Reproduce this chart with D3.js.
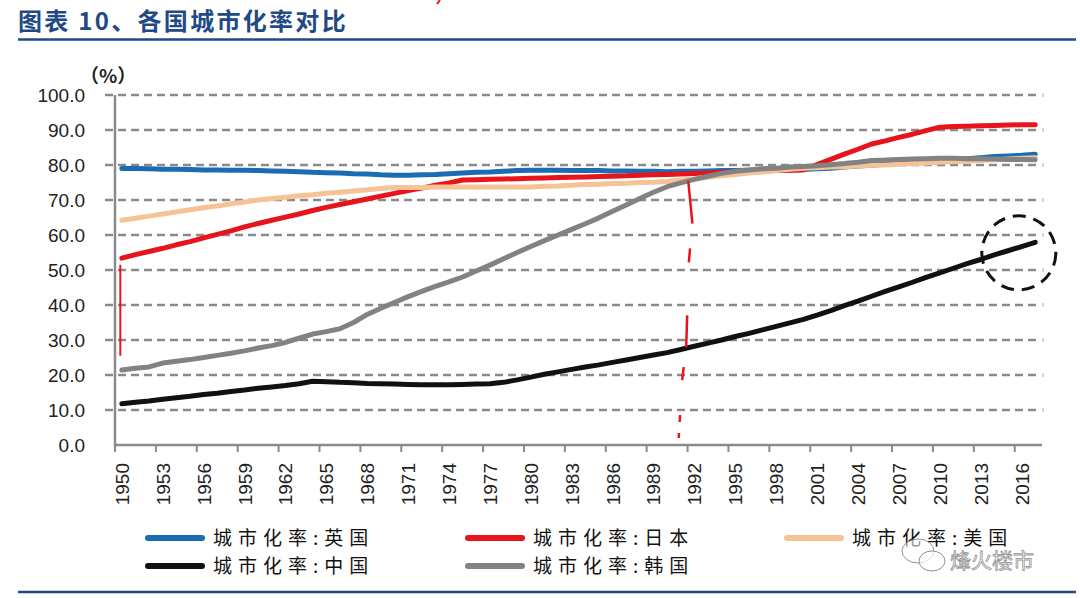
<!DOCTYPE html>
<html><head><meta charset="utf-8">
<script src="https://cdn.jsdelivr.net/npm/d3@7/dist/d3.min.js"></script>
<style>
html,body{margin:0;padding:0;background:#fff;}
svg{display:block;}
</style></head>
<body>
<svg id="chart" width="1080" height="598"></svg>
<script>
const years = d3.range(1950, 2018);
const uk = [79.0,79.0,78.9,78.8,78.8,78.7,78.6,78.6,78.5,78.5,78.4,78.3,78.2,78.1,77.9,77.8,77.7,77.5,77.4,77.2,77.1,77.1,77.2,77.3,77.5,77.7,77.9,78.0,78.2,78.4,78.5,78.5,78.5,78.4,78.4,78.4,78.3,78.3,78.2,78.2,78.1,78.2,78.2,78.3,78.4,78.4,78.5,78.5,78.6,78.6,78.7,78.9,79.1,79.4,79.7,79.9,80.2,80.5,80.8,81.0,81.3,81.6,81.8,82.1,82.4,82.6,82.8,83.1];
const japan = [53.4,54.4,55.3,56.2,57.2,58.1,59.2,60.2,61.2,62.3,63.3,64.2,65.1,66.0,67.0,67.9,68.7,69.5,70.3,71.1,71.9,72.7,73.4,74.2,74.9,75.7,75.8,75.9,76.0,76.1,76.2,76.3,76.4,76.5,76.6,76.7,76.8,76.9,77.1,77.2,77.3,77.4,77.6,77.7,77.9,78.0,78.1,78.3,78.4,78.5,78.6,80.1,81.6,83.1,84.5,86.0,86.9,87.9,88.8,89.8,90.8,91.0,91.1,91.2,91.3,91.4,91.5,91.5];
const usa = [64.2,64.8,65.4,66.0,66.6,67.2,67.8,68.3,68.9,69.4,70.0,70.4,70.8,71.2,71.5,71.9,72.2,72.6,72.9,73.3,73.6,73.6,73.6,73.7,73.7,73.7,73.7,73.7,73.7,73.7,73.7,73.9,74.0,74.2,74.4,74.5,74.7,74.8,75.0,75.1,75.3,75.7,76.1,76.5,76.9,77.3,77.7,78.0,78.4,78.8,79.1,79.2,79.4,79.5,79.7,79.9,80.0,80.2,80.4,80.6,80.8,81.0,81.1,81.3,81.5,81.7,81.9,82.1];
const china = [11.8,12.2,12.6,13.1,13.5,13.9,14.4,14.8,15.3,15.7,16.2,16.6,17.0,17.5,18.2,18.1,17.9,17.8,17.6,17.5,17.4,17.3,17.2,17.2,17.2,17.3,17.4,17.5,17.9,18.6,19.4,20.2,20.9,21.6,22.3,22.9,23.6,24.3,25.0,25.7,26.4,27.3,28.2,29.1,30.0,31.0,31.9,32.9,33.9,34.9,35.9,37.1,38.4,39.8,41.1,42.5,43.9,45.2,46.5,47.9,49.2,50.5,51.8,53.0,54.3,55.5,56.7,57.9];
const korea = [21.4,21.9,22.3,23.4,23.9,24.4,25.0,25.6,26.2,26.9,27.7,28.4,29.3,30.5,31.7,32.4,33.2,35.0,37.3,39.1,40.7,42.4,43.9,45.3,46.6,48.0,49.7,51.4,53.2,55.0,56.7,58.4,60.0,61.6,63.2,64.9,66.8,68.6,70.4,72.2,73.8,74.9,75.9,76.8,77.6,78.2,78.6,78.9,79.1,79.4,79.6,79.8,80.1,80.4,80.8,81.3,81.4,81.6,81.7,81.8,81.9,81.9,81.8,81.8,81.7,81.6,81.6,81.5];
const seriesNames = ["城市化率:英国","城市化率:日本","城市化率:美国","城市化率:中国","城市化率:韩国"];
const seriesColors = ["#1a6db5","#e8141b","#f5c396","#111111","#828282"];
const seriesData = [uk, japan, usa, china, korea];
const yTicks = [0,10,20,30,40,50,60,70,80,90,100];
const xTickYears = years.filter(y => (y - 1950) % 3 === 0);
const titleText = "图表 10、各国城市化率对比";

const svg = d3.select("#chart");
const x = d3.scaleBand().domain(years).range([115, 1042]).paddingInner(0).paddingOuter(0);
const bw = x.bandwidth();
const xc = yr => x(yr) + bw / 2;
const y = d3.scaleLinear().domain([0, 100]).range([445, 95]);

// title
svg.append("text").attr("x", 18).attr("y", 30)
  .attr("font-family", "'Noto Sans CJK SC', sans-serif").attr("font-weight", "bold")
  .attr("font-size", 24).attr("letter-spacing", 2.3).attr("fill", "#1f4a86").text(titleText);
svg.append("line").attr("x1", 18).attr("x2", 1076).attr("y1", 39.5).attr("y2", 39.5)
  .attr("stroke", "#1f4a86").attr("stroke-width", 2.5);
svg.append("line").attr("x1", 18).attr("x2", 1076).attr("y1", 592).attr("y2", 592)
  .attr("stroke", "#1f4a86").attr("stroke-width", 2.5);

// small red mark at top
svg.append("line").attr("x1", 437).attr("y1", 4).attr("x2", 440).attr("y2", 0)
  .attr("stroke", "#e8141b").attr("stroke-width", 2);

// gridlines
svg.append("g").selectAll("line").data(yTicks.filter(d => d > 0)).join("line")
  .attr("x1", 105).attr("x2", 1040).attr("y1", d => y(d)).attr("y2", d => y(d))
  .attr("stroke", "#8a8a8a").attr("stroke-width", 2.5).attr("stroke-dasharray", "8,5");
svg.append("g").selectAll("line").data(yTicks.filter(d => d > 0)).join("line")
  .attr("x1", 1043).attr("x2", 1043).attr("y1", d => y(d) - 2).attr("y2", d => y(d) + 2)
  .attr("stroke", "#aaa").attr("stroke-width", 1);

// y axis
const yAxis = d3.axisLeft(y).tickValues(yTicks).tickFormat(d3.format(".1f")).tickSize(0).tickPadding(30);
const gy = svg.append("g").attr("transform", "translate(115,0)").call(yAxis);
gy.select(".domain").remove();
gy.selectAll("text").attr("font-family", "'Liberation Sans', Arial, sans-serif").attr("font-size", 19).attr("fill", "#222");
svg.append("line").attr("x1", 115).attr("x2", 115).attr("y1", 95).attr("y2", 447)
  .attr("stroke", "#8a8a8a").attr("stroke-width", 2.5);
svg.append("text").attr("x", 80).attr("y", 83)
  .attr("font-family", "'Noto Sans CJK SC', sans-serif").attr("font-size", 19).attr("font-weight", "bold")
  .attr("fill", "#222").text("（%）");

// x axis
svg.append("line").attr("x1", 114).attr("x2", 1042).attr("y1", 445).attr("y2", 445)
  .attr("stroke", "#8a8a8a").attr("stroke-width", 2.5);
svg.append("g").selectAll("line").data(xTickYears).join("line")
  .attr("x1", d => x(d)).attr("x2", d => x(d)).attr("y1", 445).attr("y2", 452)
  .attr("stroke", "#8a8a8a").attr("stroke-width", 2);
svg.append("g").selectAll("text").data(xTickYears).join("text")
  .attr("transform", d => `translate(${xc(d) + 7},463) rotate(-90)`)
  .attr("text-anchor", "end")
  .attr("font-family", "'Liberation Sans', Arial, sans-serif").attr("font-size", 19).attr("fill", "#222")
  .text(d => d);

// lines
const line = d3.line().x((d, i) => xc(years[i])).y(d => y(d));
seriesData.forEach((s, k) => {
  svg.append("path").datum(s).attr("d", line).attr("fill", "none")
    .attr("stroke", seriesColors[k]).attr("stroke-width", 5)
    .attr("stroke-linejoin", "round").attr("stroke-linecap", "round");
});

// annotations
svg.append("line").attr("x1", xc(1950) - 1.5).attr("x2", xc(1950) - 1.5).attr("y1", y(51.5)).attr("y2", y(25.5))
  .attr("stroke", "#e8141b").attr("stroke-width", 2);
const annX = yr => xc(1950) + (yr - 1950) * bw;
const redPts = [[1991.55, 75.5],[1991.85, 63.5],[1991.6, 52.5],[1991.4, 28],[1991.1, 18.5],[1990.85, 2]];
svg.append("path").attr("d", d3.line().x(d => annX(d[0])).y(d => y(d[1]))(redPts))
  .attr("fill", "none").attr("stroke", "#e8141b").attr("stroke-width", 2.5)
  .attr("stroke-dasharray", "43,25,14,53,32,20,13,35,7,11,5,100");
svg.append("circle").attr("cx", annX(2015.8)).attr("cy", y(54.9)).attr("r", 37)
  .attr("fill", "none").attr("stroke", "#111").attr("stroke-width", 3)
  .attr("stroke-dasharray", "13,8");

// legend
const legendPos = [[148, 538],[468, 538],[787, 538],[148, 566],[468, 566]];
seriesNames.forEach((n, k) => {
  const [lx, ly] = legendPos[k];
  svg.append("line").attr("x1", lx).attr("x2", lx + 54).attr("y1", ly).attr("y2", ly)
    .attr("stroke", seriesColors[k]).attr("stroke-width", 6).attr("stroke-linecap", "round");
  svg.append("text").attr("x", lx + 65).attr("y", ly + 7)
    .attr("font-family", "'Noto Sans CJK SC', sans-serif").attr("font-size", 19)
    .attr("letter-spacing", 6).attr("fill", "#111").text(n);
});

// watermark
const wm = svg.append("g").attr("opacity", 0.8);
wm.append("ellipse").attr("cx", 918).attr("cy", 551).attr("rx", 16).attr("ry", 12)
  .attr("fill", "rgba(255,255,255,0.7)").attr("stroke", "#777").attr("stroke-width", 1);
wm.append("ellipse").attr("cx", 932).attr("cy", 561).attr("rx", 13).attr("ry", 10)
  .attr("fill", "rgba(255,255,255,0.7)").attr("stroke", "#777").attr("stroke-width", 1);
wm.append("text").attr("x", 950).attr("y", 568)
  .attr("font-family", "'Noto Sans CJK SC', sans-serif").attr("font-size", 21)
  .attr("fill", "rgba(255,255,255,0.6)").attr("stroke", "#777").attr("stroke-width", 0.8)
  .text("烽火楼市");
</script>
</body></html>
